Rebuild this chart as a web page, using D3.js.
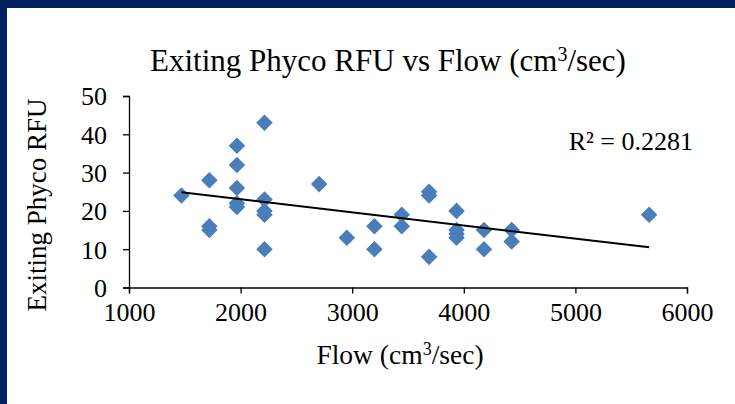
<!DOCTYPE html>
<html>
<head>
<meta charset="utf-8">
<script src="https://cdn.jsdelivr.net/npm/d3@7"></script>
<style>
  body { margin: 0; background: #fff; }
  svg { display: block; }
  text { font-family: "Liberation Serif", "Times New Roman", serif; fill: #000; }
</style>
</head>
<body>
<svg id="chart" width="735" height="404"></svg>
<script>
// flow (cm3/sec) and exiting phyco RFU
var flow = [1470, 1720, 1720, 1720, 1967, 1967, 1967, 1967, 1967,
            2214, 2214, 2214, 2214, 2214, 2704, 2952, 3199, 3199,
            3444, 3444, 3689, 3689, 3689, 3935, 3935, 3935, 3935,
            4181, 4181, 4429, 4429, 5661];
var rfu = [24, 28, 16, 15, 37, 32, 26, 22, 21,
           43, 23, 20, 19, 10, 27, 13, 16, 10,
           19, 16, 25, 24, 8, 20, 15, 14, 13,
           15, 10, 15, 12, 19];
var xTicks = [1000, 2000, 3000, 4000, 5000, 6000];
var yTicks = [0, 10, 20, 30, 40, 50];
var rSquared = "0.2281";

var svg = d3.select("#chart");

// navy frame of the slide
svg.append("rect").attr("x", 0).attr("y", 0).attr("width", 735).attr("height", 8).attr("fill", "#002060");
svg.append("rect").attr("x", 0).attr("y", 0).attr("width", 7).attr("height", 404).attr("fill", "#002060");

var x = d3.scaleLinear().domain([1000, 6000]).range([129, 687]);
var y = d3.scaleLinear().domain([0, 50]).range([287.5, 96]);

// axes
var xAxis = svg.append("g")
    .attr("transform", "translate(0," + y(0) + ")")
    .call(d3.axisBottom(x).tickValues(xTicks).tickSize(6).tickPadding(8).tickFormat(d3.format("d")));
var yAxis = svg.append("g")
    .attr("transform", "translate(" + x(1000) + ",0)")
    .call(d3.axisLeft(y).tickValues(yTicks).tickSize(6).tickPadding(16));

[xAxis, yAxis].forEach(function (g) {
    g.select(".domain").attr("stroke", "#000").attr("stroke-width", 1.3);
    g.selectAll(".tick line").attr("stroke", "#000").attr("stroke-width", 1.3);
    g.selectAll(".tick text").attr("font-size", 26).attr("font-family", "Liberation Serif").attr("fill", "#000");
});
yAxis.selectAll(".tick text").attr("dy", "0.34em");
xAxis.selectAll(".tick text").attr("dy", "0.75em");

// markers
var diamond = d3.symbol().type(d3.symbolDiamond2).size(175);
svg.append("g").selectAll("path")
    .data(flow)
    .join("path")
    .attr("d", diamond)
    .attr("transform", function (d, i) { return "translate(" + x(d) + "," + y(rfu[i]) + ")"; })
    .attr("fill", "#4a7ebb");

// linear trendline (least squares)
var mx = d3.mean(flow), my = d3.mean(rfu);
var sxy = d3.sum(flow, function (d, i) { return (d - mx) * (rfu[i] - my); });
var sxx = d3.sum(flow, function (d) { return (d - mx) * (d - mx); });
var slope = sxy / sxx, icpt = my - slope * mx;
var ext = d3.extent(flow);
svg.append("line")
    .attr("x1", x(ext[0])).attr("y1", y(icpt + slope * ext[0]))
    .attr("x2", x(ext[1])).attr("y2", y(icpt + slope * ext[1]))
    .attr("stroke", "#000").attr("stroke-width", 2);

// texts
var title = svg.append("text").attr("x", 388).attr("y", 71).attr("text-anchor", "middle").attr("font-size", 31);
title.append("tspan").text("Exiting Phyco RFU vs Flow (cm");
title.append("tspan").attr("font-size", 20).attr("dy", -10).text("3");
title.append("tspan").attr("dy", 10).text("/sec)");

var xl = svg.append("text").attr("x", 400).attr("y", 364).attr("text-anchor", "middle").attr("font-size", 27.5);
xl.append("tspan").text("Flow (cm");
xl.append("tspan").attr("font-size", 18).attr("dy", -9).text("3");
xl.append("tspan").attr("dy", 9).text("/sec)");

svg.append("text")
    .attr("transform", "translate(46,205) rotate(-90)")
    .attr("text-anchor", "middle")
    .attr("font-size", 27)
    .text("Exiting Phyco RFU");

svg.append("text").attr("x", 693).attr("y", 150).attr("text-anchor", "end").attr("font-size", 26)
    .text("R\u00b2 = " + rSquared);
</script>
</body>
</html>
